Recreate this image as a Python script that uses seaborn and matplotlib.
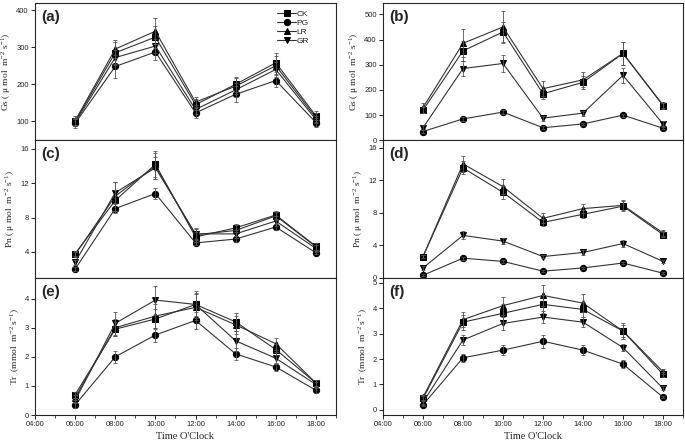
import matplotlib
matplotlib.use("Agg")
import matplotlib.pyplot as plt
from matplotlib.ticker import MultipleLocator
import seaborn as sns
import pandas as pd

# hours of measurement
hours = [6, 8, 10, 12, 14, 16, 18]
treatments = ["CK", "PG", "LR", "GR"]
markers = {"CK": "s", "PG": "o", "LR": "^", "GR": "v"}

# (a) Gs
gs_a = {"CK": [100, 285, 327, 145, 200, 258, 115],
        "PG": [95, 248, 287, 123, 173, 210, 97],
        "LR": [102, 295, 343, 152, 195, 250, 110],
        "GR": [97, 272, 303, 132, 185, 240, 105]}
gs_a_err = {"CK": [10, 30, 30, 15, 20, 25, 12],
            "PG": [12, 30, 22, 15, 22, 18, 12],
            "LR": [12, 25, 35, 15, 22, 25, 12],
            "GR": [10, 20, 20, 12, 18, 20, 10]}
# (b) Gs
gs_b = {"CK": [120, 355, 430, 185, 230, 345, 138],
        "PG": [35, 85, 112, 50, 65, 100, 48],
        "LR": [130, 385, 450, 205, 240, 345, 140],
        "GR": [50, 285, 305, 88, 108, 258, 65]}
gs_b_err = {"CK": [12, 40, 40, 20, 25, 45, 12],
            "PG": [5, 8, 8, 5, 5, 6, 5],
            "LR": [20, 55, 65, 30, 30, 45, 12],
            "GR": [10, 30, 35, 10, 10, 30, 10]}
# (c) Pn
pn_c = {"CK": [3.8, 10.0, 14.2, 5.75, 6.8, 8.3, 4.65],
        "PG": [2.0, 9.05, 10.8, 5.05, 5.5, 6.9, 3.9],
        "LR": [3.7, 10.5, 14.0, 6.0, 6.5, 8.2, 4.6],
        "GR": [2.8, 10.9, 13.8, 6.1, 6.1, 7.6, 4.4]}
pn_c_err = {"CK": [0.3, 1.2, 1.5, 0.6, 0.5, 0.5, 0.4],
            "PG": [0.2, 0.5, 0.6, 0.3, 0.3, 0.4, 0.2],
            "LR": [0.3, 1.7, 1.5, 0.8, 0.6, 0.5, 0.4],
            "GR": [0.3, 1.2, 1.3, 0.6, 0.5, 0.6, 0.4]}
# (d) Pn
pn_d = {"CK": [2.6, 13.5, 10.5, 6.8, 7.8, 8.8, 5.3],
        "PG": [0.3, 2.4, 2.0, 0.8, 1.2, 1.8, 0.55],
        "LR": [2.6, 14.0, 11.2, 7.3, 8.5, 8.9, 5.5],
        "GR": [1.2, 5.2, 4.5, 2.6, 3.1, 4.2, 2.0]}
pn_d_err = {"CK": [0.2, 0.8, 0.8, 0.4, 0.5, 0.6, 0.3],
            "PG": [0.1, 0.2, 0.2, 0.1, 0.15, 0.15, 0.1],
            "LR": [0.2, 1.0, 0.9, 0.6, 0.6, 0.6, 0.4],
            "GR": [0.2, 0.5, 0.4, 0.2, 0.3, 0.4, 0.2]}
# (e) Tr
tr_e = {"CK": [0.7, 2.95, 3.3, 3.8, 3.2, 2.25, 1.1],
        "PG": [0.35, 2.0, 2.75, 3.25, 2.1, 1.65, 0.85],
        "LR": [0.6, 3.0, 3.4, 3.7, 3.1, 2.45, 1.1],
        "GR": [0.5, 3.15, 3.95, 3.8, 2.55, 1.95, 1.05]}
tr_e_err = {"CK": [0.1, 0.25, 0.35, 0.4, 0.3, 0.2, 0.1],
            "PG": [0.1, 0.2, 0.25, 0.3, 0.2, 0.15, 0.08],
            "LR": [0.1, 0.3, 0.4, 0.45, 0.3, 0.2, 0.1],
            "GR": [0.1, 0.4, 0.5, 0.45, 0.35, 0.2, 0.1]}
# (f) Tr
tr_f = {"CK": [0.45, 3.45, 3.8, 4.15, 3.95, 3.1, 1.4],
        "PG": [0.2, 2.05, 2.35, 2.7, 2.35, 1.8, 0.5],
        "LR": [0.5, 3.55, 4.1, 4.5, 4.2, 3.1, 1.5],
        "GR": [0.3, 2.75, 3.4, 3.65, 3.45, 2.45, 0.85]}
tr_f_err = {"CK": [0.1, 0.3, 0.35, 0.35, 0.3, 0.25, 0.1],
            "PG": [0.05, 0.15, 0.2, 0.25, 0.2, 0.15, 0.05],
            "LR": [0.1, 0.3, 0.35, 0.4, 0.35, 0.3, 0.1],
            "GR": [0.1, 0.2, 0.25, 0.25, 0.2, 0.15, 0.08]}

gs_label = "Gs ( μ mol  m$^{-2}$ s$^{-1}$)"
pn_label = "Pn ( μ mol  m$^{-2}$ s$^{-1}$)"
tr_label = "Tr  (mmol  m$^{-2}$ s$^{-1}$)"

panels = [
    ("(a)", gs_a, gs_a_err, gs_label, (49, 419), [100, 200, 300, 400]),
    ("(b)", gs_b, gs_b_err, gs_label, (0, 545), [0, 100, 200, 300, 400, 500]),
    ("(c)", pn_c, pn_c_err, pn_label, (1, 17), [4, 8, 12, 16]),
    ("(d)", pn_d, pn_d_err, pn_label, (0, 16.9), [0, 4, 8, 12, 16]),
    ("(e)", tr_e, tr_e_err, tr_label, (0, 4.72), [0, 1, 2, 3, 4]),
    ("(f)", tr_f, tr_f_err, tr_label, (-0.2, 5.2), [0, 1, 2, 3, 4, 5]),
]

sns.set_style("ticks")
plt.rcParams["font.family"] = ["Liberation Sans", "DejaVu Sans"]
plt.rcParams["mathtext.fontset"] = "custom"
plt.rcParams["mathtext.rm"] = "Liberation Serif"

fig = plt.figure(figsize=(6.85, 4.44), dpi=100)
W, H = 685, 444
lefts = [35, 383]
widths = [301, 300]
top, bottom = 3, 415
row_h = (bottom - top) / 3

for i, (tag, vals, errs, ylab, ylim, yticks) in enumerate(panels):
    row, col = i // 2, i % 2
    ax = fig.add_axes([lefts[col] / W, 1 - (top + (row + 1) * row_h) / H,
                       widths[col] / W, row_h / H])
    df = pd.DataFrame([(h, t, v) for t in treatments for h, v in zip(hours, vals[t])],
                      columns=["hour", "treatment", "value"])
    sns.lineplot(data=df, x="hour", y="value", style="treatment", markers=markers,
                 dashes=False, color="#333333", linewidth=0.8, markersize=4.5,
                 markeredgecolor="black", markerfacecolor="black",
                 legend=(i == 0), ax=ax)
    for t in treatments:
        ax.errorbar(hours, vals[t], yerr=errs[t], fmt="none", ecolor="#555555",
                    elinewidth=0.6, capsize=1.5, capthick=0.6)
    ax.set_xlim(4, 19)
    ax.set_ylim(*ylim)
    ax.set_yticks(yticks)
    ax.xaxis.set_major_locator(MultipleLocator(2))
    ax.xaxis.set_minor_locator(MultipleLocator(1))
    ax.tick_params(axis="both", which="major", labelsize=5.5, length=3, width=0.7, pad=1.5)
    ax.tick_params(axis="x", which="minor", length=2, width=0.6)
    for s in ax.spines.values():
        s.set_linewidth(0.8)
        s.set_visible(True)
    ax.set_ylabel(ylab, family="Liberation Serif", fontsize=6.8, labelpad=2)
    if row == 2:
        ax.set_xticks(range(4, 19, 2))
        ax.set_xticklabels([f"{h:02d}:00" for h in range(4, 19, 2)])
        ax.set_xlabel("Time O'Clock", family="Liberation Serif", fontsize=7.5, labelpad=3)
    else:
        ax.tick_params(axis="x", which="both", length=0, labelbottom=False)
        ax.set_xlabel("")
    ax.text(0.02, 0.95, tag, transform=ax.transAxes, fontsize=11, fontweight="bold",
            ha="left", va="top")
    if i == 0:
        ax.legend(loc="upper right", bbox_to_anchor=(0.93, 0.99), frameon=False,
                  fontsize=6, handlelength=2.2, handletextpad=0.1, labelspacing=0.15,
                  borderpad=0.2, title=None)

fig.savefig("out.png", dpi=100)
